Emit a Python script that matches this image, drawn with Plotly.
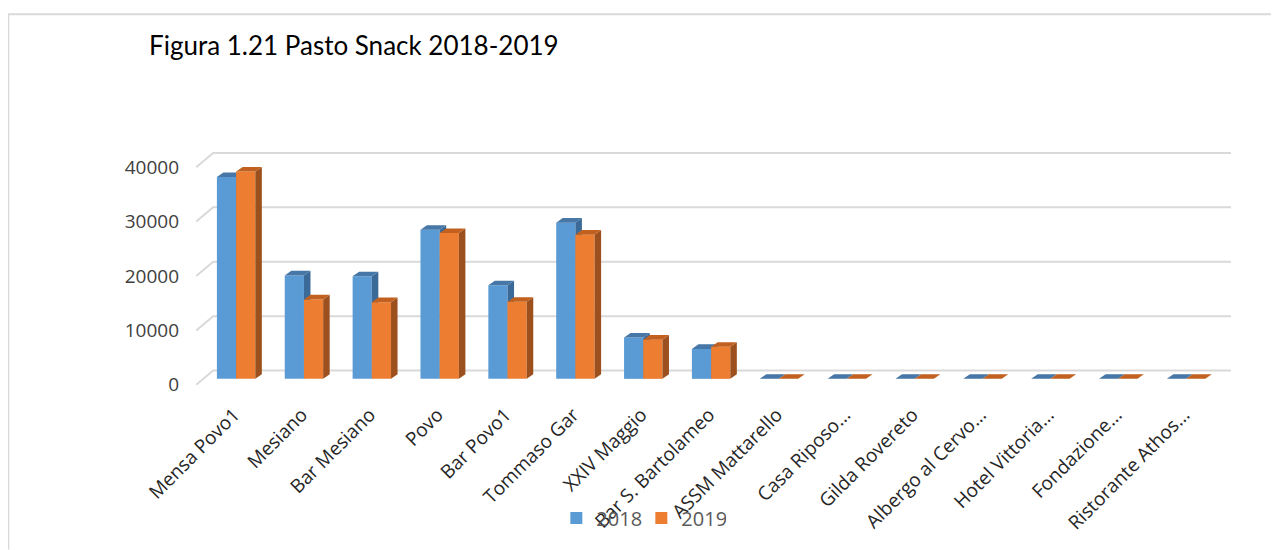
import plotly.graph_objects as go

# categories and values
categories = ["Mensa Povo1", "Mesiano", "Bar Mesiano", "Povo", "Bar Povo1",
              "Tommaso Gar", "XXIV Maggio", "Bar S. Bartolameo", "ASSM Mattarello",
              "Casa Riposo...", "Gilda Rovereto", "Albergo al Cervo...",
              "Hotel Vittoria...", "Fondazione...", "Ristorante Athos..."]
values_2018 = [37100, 19000, 18850, 27400, 17200, 28700, 7600, 5500, 0, 0, 0, 0, 0, 0, 0]
values_2019 = [38100, 14600, 14100, 26800, 14150, 26500, 7200, 5900, 0, 0, 0, 0, 0, 0, 0]
y_ticks = [0, 10000, 20000, 30000, 40000]

# the page body has an 8px margin, so the figure is a bit smaller than the window
PAGE = 8
W, H = 1279 - PAGE, 550 - PAGE
X_RANGE = [-0.65, 14.75]
Y_RANGE = [-1500, 43900]
ML, MR, MT, MB = 191.7 - PAGE, 42.4, 140.4 - PAGE, 162.5

BAR_W = 0.283          # width of one bar, category units
DEPTH_X, DEPTH_Y = 0.096, 845      # 3d depth of the bars
BACK_X, BACK_Y = 0.162, 1525       # back wall offset (gridlines)
FRONT_X, FRONT_Y = -0.088, -1100   # front edge of the floor

BLUE, BLUE_SIDE, BLUE_TOP = "#5B9BD5", "#3B6A98", "#4677A6"
ORANGE, ORANGE_SIDE, ORANGE_TOP = "#ED7D31", "#9C501E", "#C2611F"
GRID = "#D9D9D9"


# screen pixel (as in the window) -> paper coordinates
def paper_x(px):
    return (px - PAGE - ML) / (W - ML - MR)


def paper_y(py):
    return (H - MB - (py - PAGE)) / (H - MT - MB)


def faces(vals, offset):
    sx, sy, tx, ty = [], [], [], []
    for i, v in enumerate(vals):
        xl = i + offset
        xr = xl + BAR_W
        sx += [xr, xr + DEPTH_X, xr + DEPTH_X, xr, xr, None]
        sy += [0, DEPTH_Y, v + DEPTH_Y, v, 0, None]
        tx += [xl, xl + DEPTH_X, xr + DEPTH_X, xr, xl, None]
        ty += [v, v + DEPTH_Y, v + DEPTH_Y, v, v, None]
    return sx, sy, tx, ty


fig = go.Figure()

# back gridlines and the little floor stubs on the left
gx, gy = [], []
for t in y_ticks:
    gx += [-0.5 + FRONT_X, -0.5 + BACK_X, 14.5 + BACK_X, None]
    gy += [t + FRONT_Y, t + BACK_Y, t + BACK_Y, None]
fig.add_trace(go.Scatter(x=gx, y=gy, mode="lines", line=dict(color=GRID, width=2),
                         hoverinfo="skip", showlegend=False, xaxis="x", yaxis="y"))

for name, vals, offset, front, side, top, ax in [
        ("2018", values_2018, -BAR_W, BLUE, BLUE_SIDE, BLUE_TOP, "2"),
        ("2019", values_2019, 0.0, ORANGE, ORANGE_SIDE, ORANGE_TOP, "3")]:
    idx = list(range(len(categories)))
    fig.add_trace(go.Bar(x=idx, y=vals, name=name, width=BAR_W, offset=offset,
                         marker=dict(color=front, line=dict(width=0)),
                         xaxis="x" + ax, yaxis="y" + ax))
    sx, sy, tx, ty = faces(vals, offset)
    fig.add_trace(go.Scatter(x=sx, y=sy, fill="toself", fillcolor=side, mode="lines",
                             line=dict(width=0, color=side), hoverinfo="skip",
                             showlegend=False, xaxis="x" + ax, yaxis="y" + ax))
    fig.add_trace(go.Scatter(x=tx, y=ty, fill="toself", fillcolor=top, mode="lines",
                             line=dict(width=0, color=top), hoverinfo="skip",
                             showlegend=False, xaxis="x" + ax, yaxis="y" + ax))

hidden_x = dict(overlaying="x", range=X_RANGE, visible=False)
hidden_y = dict(overlaying="y", range=Y_RANGE, visible=False)

fig.update_layout(
    width=W, height=H,
    margin=dict(l=ML, r=MR, t=MT, b=MB, autoexpand=False),
    paper_bgcolor="white", plot_bgcolor="white",
    font=dict(family="Open Sans", color="#404040"),
    title=dict(text="Figura 1.21 Pasto Snack 2018-2019", xref="container", yref="container",
               x=(149 - PAGE) / W, xanchor="left", y=1 - (46 - PAGE) / H, yanchor="middle",
               font=dict(family="Lato", size=26, color="#000000")),
    xaxis=dict(range=X_RANGE, tickvals=list(range(len(categories))), ticktext=categories,
               tickangle=-45, tickfont=dict(size=19, color="#262626"),
               showgrid=False, zeroline=False, showline=False, ticks="",
               ticklabelstandoff=12, ticklabelshift=-2),
    yaxis=dict(range=Y_RANGE, tickvals=y_ticks, ticktext=[str(t) for t in y_ticks],
               tickfont=dict(size=19, color="#404040"),
               showgrid=False, zeroline=False, showline=False, ticks="",
               ticklabelshift=6, ticklabelstandoff=12),
    xaxis2=hidden_x, yaxis2=hidden_y,
    xaxis3=hidden_x, yaxis3=hidden_y,
    legend=dict(orientation="h", x=paper_x(641), y=paper_y(518.5),
                xanchor="center", yanchor="middle", bgcolor="rgba(0,0,0,0)",
                entrywidth=40, entrywidthmode="pixels",
                font=dict(family="Open Sans", size=20, color="#595959")),
    showlegend=True,
    shapes=[dict(type="path", xref="paper", yref="paper",
                 path=f"M {paper_x(PAGE)} {paper_y(550)} L {paper_x(PAGE)} {paper_y(14.7)} "
                      f"L {paper_x(1279)} {paper_y(14.7)}",
                 line=dict(color=GRID, width=2))],
)

fig.write_html("out.html")
